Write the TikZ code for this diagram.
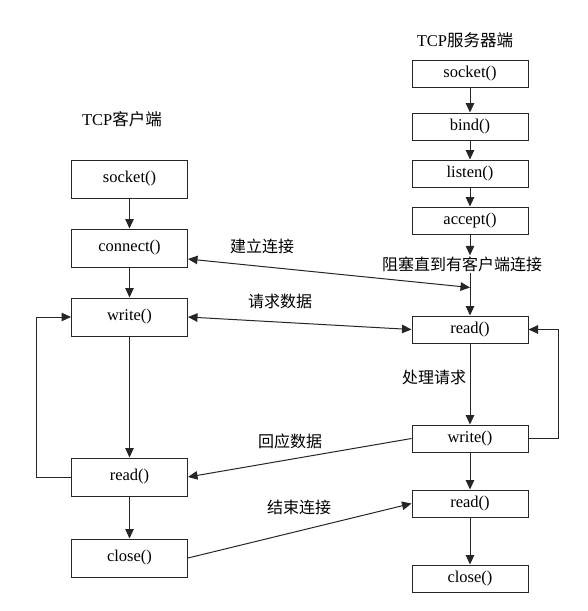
\documentclass[tikz,border=0pt]{standalone}
\usepackage{fontspec}
\setmainfont{Liberation Serif}
\newfontfamily\cjk{Noto Sans CJK SC}
\usetikzlibrary{arrows.meta,calc,positioning}

\begin{document}
\begin{tikzpicture}[
  x=1pt, y=-1pt,
  font=\fontsize{16.5}{19}\selectfont,
  func/.style={draw=black!85, line width=1pt, minimum width=116pt, inner sep=0pt},
  cfunc/.style={func, minimum height=38pt},
  sfunc/.style={func, minimum height=27pt},
  note/.style={font=\fontsize{16}{19}\selectfont\cjk, inner sep=1pt},
  arrow/.style={-{Triangle[length=9.5pt,width=8.5pt]}, line width=1pt, draw=black!85},
  both/.style={arrow, {Triangle[length=9.5pt,width=8.5pt]}-{Triangle[length=9.5pt,width=8.5pt]}}
]
  \useasboundingbox (0,0) rectangle (587,611);

  % client side
  \node (ctitle) at (122,119) {TCP{\cjk 客户端}};
  \node[cfunc] (csocket) at (129.5,179) {socket()};
  \node[cfunc, below=30pt of csocket] (cconnect) {connect()};
  \node[cfunc, below=30pt of cconnect] (cwrite) {write()};
  \node[cfunc, below=121pt of cwrite] (cread) {read()};
  \node[cfunc, below=42pt of cread] (cclose) {close()};

  % server side
  \node (stitle) at (465,40) {TCP{\cjk 服务器端}};
  \node[sfunc] (ssocket) at (470,73.5) {socket()};
  \node[sfunc, below=25pt of ssocket] (sbind) {bind()};
  \node[sfunc, below=19pt of sbind] (slisten) {listen()};
  \node[sfunc, below=19pt of slisten] (saccept) {accept()};
  \node[note] (sblock) at (462,264) {阻塞直到有客户端连接};
  \node[sfunc] (sread) at (470,329.5) {read()};
  \node[sfunc, below=81pt of sread] (swrite) {write()};
  \node[sfunc, below=37pt of swrite] (sread2) {read()};
  \node[sfunc, below=47pt of sread2] (sclose) {close()};
  \coordinate (sjoin) at ($(sread.north)+(0,-28)$);

  % labels
  \node[note] (lconn) at (262,246) {建立连接};
  \node[note] (lreq) at (280,301) {请求数据};
  \node[note] (lproc) at (434,377) {处理请求};
  \node[note] (lresp) at (290,441) {回应数据};
  \node[note] (lend) at (299,507) {结束连接};

  \draw[arrow] (csocket) -- (cconnect);
  \draw[arrow] (cconnect) -- (cwrite);
  \draw[arrow] (cwrite) -- (cread);
  \draw[arrow] (cread) -- (cclose);
  \draw[arrow] (cread.west) -- ++(-35,0) |- (cwrite.west);

  \draw[arrow] (ssocket) -- (sbind);
  \draw[arrow] (sbind) -- (slisten);
  \draw[arrow] (slisten) -- (saccept);
  \draw[arrow] (saccept) -- (saccept |- sblock.north);
  \draw[arrow] (sread |- sblock.south) -- (sread);
  \draw[arrow] (sread) -- (swrite);
  \draw[arrow] (swrite) -- (sread2);
  \draw[arrow] (sread2) -- (sclose);
  \draw[arrow] (swrite.east) -- ++(30,0) |- (sread.east);

  \draw[both] ([yshift=-11pt]cconnect.east) -- (sjoin);
  \draw[both] (cwrite.east) -- (sread.west);
  \draw[arrow] (swrite.west) -- (cread.east);
  \draw[arrow] (cclose.east) -- (sread2.west);
\end{tikzpicture}
\end{document}
